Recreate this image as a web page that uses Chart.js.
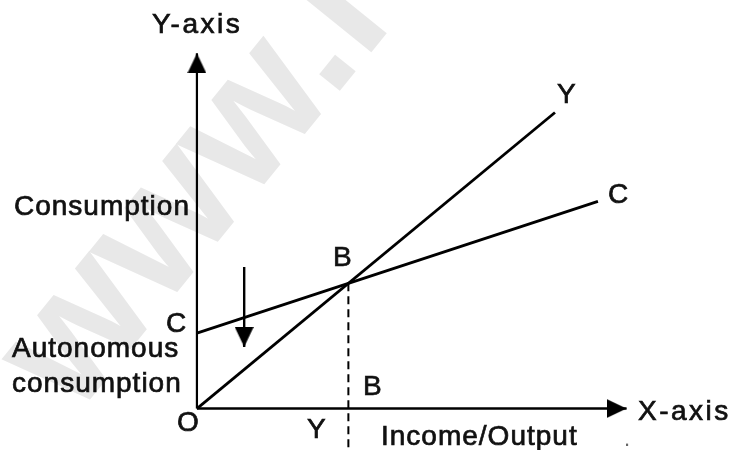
<!DOCTYPE html>
<html>
<head>
<meta charset="utf-8">
<script src="https://cdn.jsdelivr.net/npm/chart.js@4.4.1/dist/chart.umd.min.js"></script>
<style>
body{margin:0;background:#fff}
#chart{display:block}
</style>
</head>
<body>
<canvas id="chart" width="734" height="450"></canvas>
<script>

/* ---------------- DATA ---------------- */

// axes of the diagram (origin O at 0,0)
const yAxisX = [0, 0]
const yAxisY = [0, 12]
const xAxisX = [0, 12]
const xAxisY = [0, 0]

// Y line (45 degree income line)
const incomeX = [0, 10]
const incomeY = [0, 10]

// C line (consumption function, autonomous part at the intercept)
const consumptionX = [0, 11.2]
const consumptionY = [2.55, 7.0]

// equilibrium point B and the drop line to Y
const equilibriumX = [4.23, 4.23]
const equilibriumY = [4.23, -1.4]

// arrow marking autonomous consumption
const autoArrowX = [1.32, 1.32]
const autoArrowY = [4.78, 2.08]

const toPoints = (xs, ys) => xs.map((x, i) => ({ x: x, y: ys[i] }))

/* ---------------- ARROW HEAD ---------------- */

// tip sits at the centre of the image, body goes down from it
function makeArrowHead(){
const c = document.createElement("canvas")
c.width = 19
c.height = 40
const g = c.getContext("2d")
g.fillStyle = "#000"
g.beginPath()
g.moveTo(9.5, 20)
g.lineTo(19, 40)
g.lineTo(0, 40)
g.closePath()
g.fill()
return c
}

const arrowHead = makeArrowHead()

/* ---------------- TEXT ---------------- */

const labels = [
{ text: "Y-axis", x: 152, y: 33, sp: 2.5 },
{ text: "Consumption", x: 14, y: 215, sp: 1 },
{ text: "C", x: 166, y: 332, sp: 1 },
{ text: "Autonomous", x: 12, y: 357, sp: 1 },
{ text: "consumption", x: 12, y: 392, sp: 1 },
{ text: "O", x: 177, y: 431, sp: 1 },
{ text: "Y", x: 307, y: 438, sp: 1 },
{ text: "B", x: 333, y: 266, sp: 1 },
{ text: "B", x: 363, y: 395, sp: 1 },
{ text: "X-axis", x: 638, y: 420, sp: 2.5 },
{ text: "Income/Output", x: 381, y: 445, sp: 1 },
{ text: "Y", x: 557, y: 103, sp: 1 },
{ text: "C", x: 608, y: 203, sp: 1 }
]

const watermarkPlugin = {
id: "watermark",
beforeDatasetsDraw(chart){
const ctx = chart.ctx
ctx.save()
ctx.fillStyle = "#e8e8e8"
ctx.font = "bold 178px 'Liberation Sans', Arial, sans-serif"
ctx.textBaseline = "alphabetic"
ctx.translate(352, 76)
ctx.rotate(-51 * Math.PI / 180)
const start = ctx.measureText("www").width + ctx.measureText(".").width / 2
ctx.fillText("www.l", -start, 0)
ctx.restore()
}
}

const labelPlugin = {
id: "labels",
afterDatasetsDraw(chart){
const ctx = chart.ctx
ctx.save()
ctx.fillStyle = "#111"
ctx.strokeStyle = "#111"
ctx.lineWidth = 0.7
ctx.font = "28px 'Liberation Sans', Arial, sans-serif"
ctx.textAlign = "left"
ctx.textBaseline = "alphabetic"
labels.forEach(l => {
ctx.letterSpacing = l.sp + "px"
ctx.fillText(l.text, l.x, l.y)
ctx.strokeText(l.text, l.x, l.y)
})
ctx.letterSpacing = "0px"
ctx.font = "22px 'Liberation Sans', Arial, sans-serif"
ctx.fillStyle = "#666"
ctx.fillText(".", 624, 446)
ctx.restore()
}
}

/* ---------------- CHART ---------------- */

const noPoint = { pointRadius: 0, pointHoverRadius: 0 }

new Chart(document.getElementById("chart"), {

type: "scatter",

data: {
datasets: [

{
label: "Y-axis",
data: toPoints(yAxisX, yAxisY),
showLine: true,
borderColor: "#000",
borderWidth: 2.2,
pointRadius: [0, 10],
pointStyle: arrowHead,
rotation: 0
},

{
label: "X-axis",
data: toPoints(xAxisX, xAxisY),
showLine: true,
borderColor: "#000",
borderWidth: 2.6,
pointRadius: [0, 10],
pointStyle: arrowHead,
rotation: 90
},

{
label: "Y",
data: toPoints(incomeX, incomeY),
showLine: true,
borderColor: "#000",
borderWidth: 2.8,
...noPoint
},

{
label: "C",
data: toPoints(consumptionX, consumptionY),
showLine: true,
borderColor: "#000",
borderWidth: 2.8,
...noPoint
},

{
label: "B",
data: toPoints(equilibriumX, equilibriumY),
showLine: true,
borderColor: "#000",
borderWidth: 2,
borderDash: [8, 5],
...noPoint
},

{
label: "Autonomous consumption",
data: toPoints(autoArrowX, autoArrowY),
showLine: true,
borderColor: "#000",
borderWidth: 2.4,
pointRadius: [0, 10],
pointStyle: arrowHead,
rotation: 180
}

]
},

options: {
responsive: false,
animation: false,
clip: false,
layout: { padding: 0, autoPadding: false },
events: [],
plugins: {
legend: { display: false },
tooltip: { enabled: false }
},
scales: {
x: { type: "linear", display: false, min: -5.5, max: 15 },
y: { type: "linear", display: false, min: -1.4, max: 13.8 }
}
},

plugins: [watermarkPlugin, labelPlugin]

})

</script>
</body>
</html>
